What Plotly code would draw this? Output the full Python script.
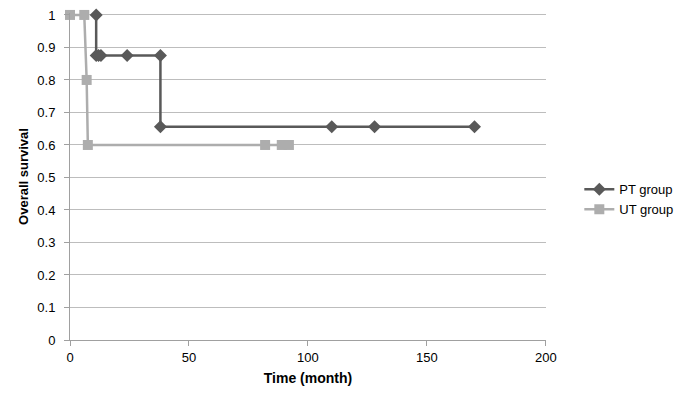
import plotly.graph_objects as go

pt_time = [11, 11, 12, 13, 24, 38, 38, 110, 128, 170]
pt_surv = [1, 0.875, 0.875, 0.875, 0.875, 0.875, 0.656, 0.656, 0.656, 0.656]
ut_time = [0, 6, 7, 7.5, 82, 89, 92]
ut_surv = [1, 1, 0.8, 0.6, 0.6, 0.6, 0.6]
y_ticks = [0, 0.1, 0.2, 0.3, 0.4, 0.5, 0.6, 0.7, 0.8, 0.9, 1]
y_tick_labels = ["0", "0.1", "0.2", "0.3", "0.4", "0.5", "0.6", "0.7", "0.8", "0.9", "1"]
x_ticks = [0, 50, 100, 150, 200]

font = "Liberation Sans, Arial, sans-serif"

fig = go.Figure()
fig.add_trace(go.Scatter(x=pt_time, y=pt_surv, mode="lines+markers", name="PT group",
                         line=dict(color="#595959", width=2.5),
                         marker=dict(symbol="diamond", size=10, color="#595959"),
                         cliponaxis=False))
fig.add_trace(go.Scatter(x=ut_time, y=ut_surv, mode="lines+markers", name="UT group",
                         line=dict(color="#adadad", width=2.5),
                         marker=dict(symbol="square", size=10, color="#adadad"),
                         cliponaxis=False))

fig.update_layout(
    width=677, height=395,
    margin=dict(l=62, r=139, t=5, b=63, autoexpand=False),
    paper_bgcolor="white", plot_bgcolor="white",
    font=dict(family=font, size=13, color="black"),
    showlegend=True,
    legend=dict(x=1.07, y=0.43, xanchor="left", yanchor="middle",
                font=dict(size=13), tracegroupgap=0, itemwidth=30),
    xaxis=dict(range=[0, 200.05], tickvals=x_ticks, showgrid=False, zeroline=False, automargin=False,
               showline=True, linecolor="#a0a0a0", linewidth=1,
               ticks="outside", ticklen=5, tickcolor="#a0a0a0",
               title=dict(text="<b>Time (month)</b>", font=dict(size=14), standoff=9)),
    yaxis=dict(range=[0, 1.006], tickvals=y_ticks, ticktext=y_tick_labels,
               showgrid=True, gridcolor="#bdbdbd", gridwidth=1, ticklabeloverflow="allow",
               zeroline=False, showline=True, linecolor="#a0a0a0", linewidth=1, automargin=False,
               ticks="outside", ticklen=5, tickcolor="#a0a0a0", ticklabelstandoff=6,
               title=dict(text="<b>Overall survival</b>", font=dict(size=13), standoff=5)),
)

fig.write_html("out.html")
